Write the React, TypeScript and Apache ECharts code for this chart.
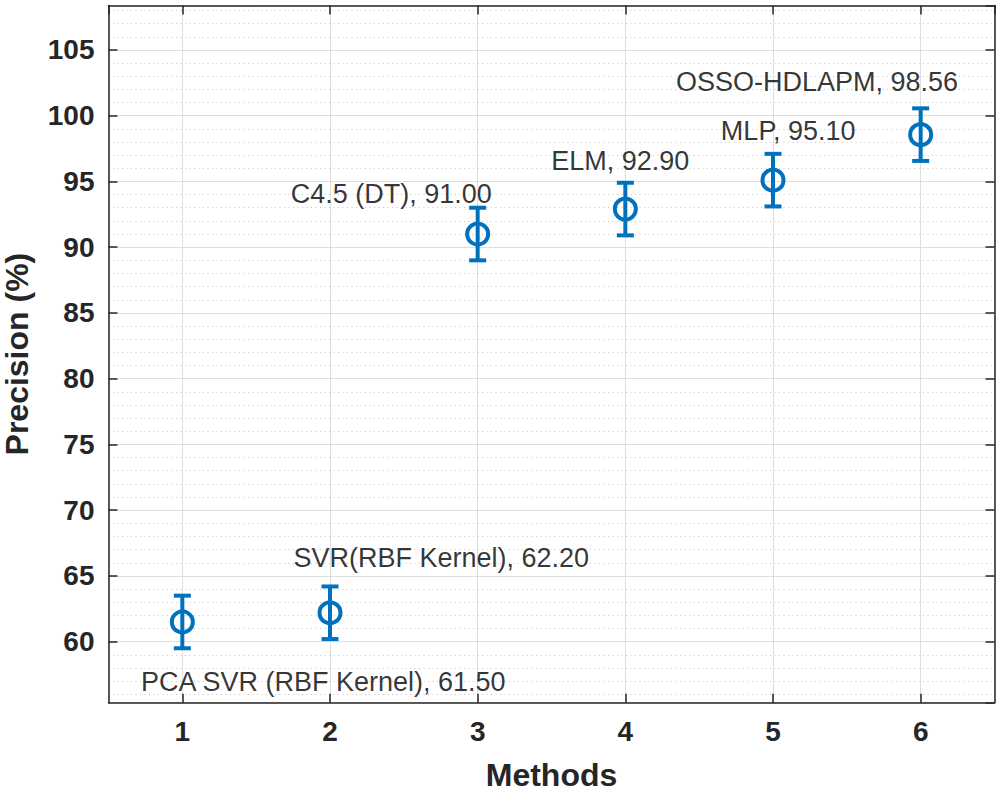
import React, { useEffect, useRef } from "react";
import * as echarts from "echarts";

const methods = [1, 2, 3, 4, 5, 6];
const precision = [61.5, 62.2, 91.0, 92.9, 95.1, 98.56];
const errors = [2, 2, 2, 2, 2, 2];
const labelTexts = [
  "PCA SVR (RBF Kernel), 61.50",
  "SVR(RBF Kernel), 62.20",
  "C4.5 (DT), 91.00",
  "ELM, 92.90",
  "MLP, 95.10",
  "OSSO-HDLAPM, 98.56",
];
const labelX = [0.72, 1.752, 1.734, 3.498, 4.647, 4.343];
const labelY = [56.96, 66.34, 94.02, 96.58, 98.84, 102.53];
const xTickLabels = ["1", "2", "3", "4", "5", "6"];
const yMajorTicks = [60, 65, 70, 75, 80, 85, 90, 95, 100, 105];
const yMinorTicks: number[] = [];
for (let v = 56; v <= 108; v++) if (v % 5 !== 0) yMinorTicks.push(v);

const X_MIN = 0.5;
const X_MAX = 6.5;
const Y_MIN = 55.36;
const Y_MAX = 108.38;

const BLUE = "#0072BD";
const AXIS = "#262626";
const FONT = "'Liberation Sans', Arial, Helvetica, sans-serif";

export default function App() {
  const ref = useRef<HTMLDivElement>(null);

  useEffect(() => {
    document.body.style.margin = "0";
    if (!ref.current) return;
    const chart = echarts.init(ref.current, undefined, { renderer: "svg" });

    const axisLine = { show: true, lineStyle: { color: AXIS, width: 1.5 } };
    const axisTick = { show: true, inside: true, length: 9, lineStyle: { color: AXIS, width: 1.5 } };

    const option: any = {
      animation: false,
      backgroundColor: "#ffffff",
      textStyle: { fontFamily: FONT },
      grid: {
        left: 108.5,
        right: 5.5,
        top: 5.5,
        bottom: 94.3,
        containLabel: false,
        outerBoundsMode: "none",
      },
      xAxis: [
        {
          type: "value",
          position: "bottom",
          min: X_MIN,
          max: X_MAX,
          splitNumber: 6,
          axisLine,
          axisTick,
          axisLabel: {
            show: true,
            fontSize: 28,
            fontWeight: "bold",
            color: AXIS,
            fontFamily: FONT,
            margin: 15,
            showMinLabel: false,
            showMaxLabel: false,
            formatter: (v: number) => {
              const i = methods.indexOf(v);
              return i >= 0 ? xTickLabels[i] : "";
            },
          },
          splitLine: { show: true, lineStyle: { color: "#dedede", width: 1 } },
          name: "Methods",
          nameLocation: "middle",
          nameGap: 56,
          nameTextStyle: { fontSize: 32, fontWeight: "bold", color: AXIS, fontFamily: FONT },
        },
        {
          type: "value",
          position: "top",
          min: X_MIN,
          max: X_MAX,
          splitNumber: 6,
          axisLine,
          axisTick,
          axisLabel: { show: false },
          splitLine: { show: false },
        },
      ],
      yAxis: [
        {
          type: "value",
          position: "left",
          min: Y_MIN,
          max: Y_MAX,
          splitNumber: 10,
          axisLine,
          axisTick,
          axisLabel: {
            show: true,
            fontSize: 28,
            fontWeight: "bold",
            color: AXIS,
            fontFamily: FONT,
            margin: 14,
            showMinLabel: false,
            showMaxLabel: false,
            formatter: (v: number) => (yMajorTicks.indexOf(v) >= 0 ? String(v) : ""),
          },
          splitLine: { show: true, lineStyle: { color: "#dedede", width: 1 } },
          name: "Precision (%)",
          nameLocation: "middle",
          nameGap: 76,
          nameTextStyle: { fontSize: 32, fontWeight: "bold", color: AXIS, fontFamily: FONT },
        },
        {
          type: "value",
          position: "right",
          min: Y_MIN,
          max: Y_MAX,
          splitNumber: 10,
          axisLine,
          axisTick,
          axisLabel: { show: false },
          splitLine: { show: false },
        },
      ],
      series: [
        {
          type: "scatter",
          name: "labels",
          xAxisIndex: 0,
          yAxisIndex: 0,
          symbolSize: 0,
          z: 1,
          silent: true,
          data: labelTexts.map((t, i) => [labelX[i], labelY[i], t]),
          label: {
            show: true,
            position: "right",
            distance: 0,
            fontSize: 27,
            color: "#000000",
            fontFamily: FONT,
            formatter: (p: any) => p.data[2],
          },
          markLine: {
            silent: true,
            symbol: "none",
            label: { show: false },
            lineStyle: { type: [1, 3.5], color: "#c4c4c4", width: 1 },
            data: yMinorTicks.map((v) => ({ yAxis: v })),
            z: 0,
          },
        },
        {
          type: "custom",
          name: "Precision",
          xAxisIndex: 0,
          yAxisIndex: 0,
          z: 5,
          data: methods.map((m, i) => [m, precision[i], errors[i]]),
          renderItem: (_params: any, api: any) => {
            const x = api.value(0);
            const y = api.value(1);
            const e = api.value(2);
            const c = api.coord([x, y]);
            const hi = api.coord([x, y + e]);
            const lo = api.coord([x, y - e]);
            const style = { stroke: BLUE, lineWidth: 4, fill: "none" };
            const cap = 8.5;
            return {
              type: "group",
              children: [
                { type: "line", shape: { x1: c[0], y1: hi[1], x2: c[0], y2: lo[1] }, style },
                { type: "line", shape: { x1: c[0] - cap, y1: hi[1], x2: c[0] + cap, y2: hi[1] }, style },
                { type: "line", shape: { x1: c[0] - cap, y1: lo[1], x2: c[0] + cap, y2: lo[1] }, style },
                { type: "circle", shape: { cx: c[0], cy: c[1], r: 10.5 }, style },
              ],
            };
          },
        },
      ],
    };

    chart.setOption(option);
    return () => chart.dispose();
  }, []);

  return <div ref={ref} style={{ width: 1000, height: 797 }} />;
}
